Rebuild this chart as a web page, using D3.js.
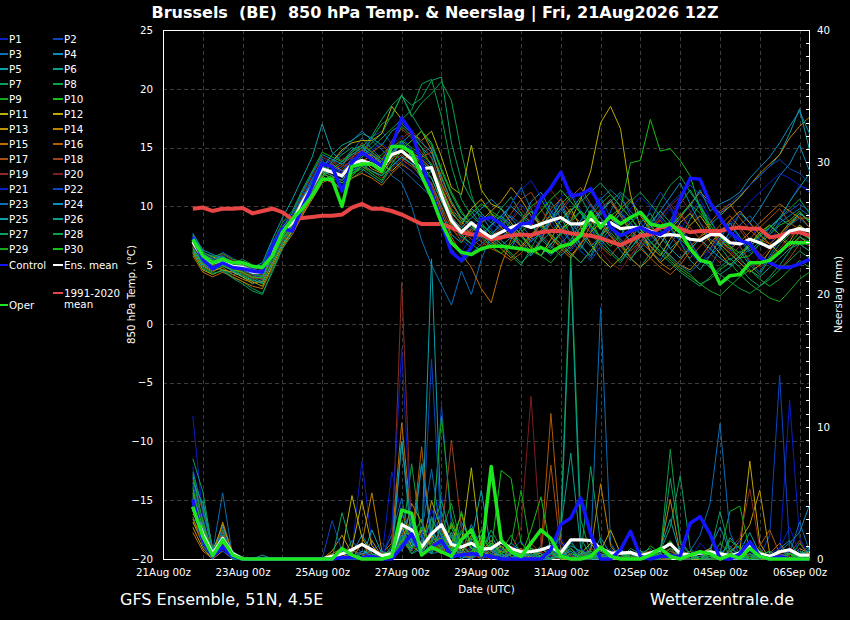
<!DOCTYPE html>
<html>
<head>
<meta charset="utf-8">
<script src="https://cdn.jsdelivr.net/npm/d3@7"></script>
<style>
body { margin: 0; background: #000; }
svg { display: block; font-family: "DejaVu Sans", sans-serif; }
text { fill: #fff; }
</style>
</head>
<body>
<script>
// GFS ensemble plume, Brussels, run 21Aug2026 12Z, 6-hourly steps from 21Aug 18z
var firstStep = Date.UTC(2026, 7, 21, 18),
	stepHours = 6,
	nSteps = 63;

var pertNames = d3.range(1, 31).map(function(i) { return "P" + i; });
var pertColors = ["#0a1ec8","#0a46c0","#0a6eb4","#0a8cbe","#0aa0aa","#0aa08c","#0aa064","#0aa046","#14aa1e","#14c014",
	"#b4b400","#c0a800","#c09600","#c08200","#c06e00","#b45a00","#aa5014","#a0401e","#8c2d1e","#7d1e1e",
	"#0a1ec8","#0a46c0","#0a6eb4","#0a8cbe","#0aa0aa","#0aa08c","#0aa064","#0aa046","#14aa1e","#14c014"];

var controlTemp = [7.35,5.5,4.7,5.2,4.8,4.7,4.5,4.4,6.6,8.1, 7.9,9.9,11.7,13.6,13.4,11.3,13.7,14.6,14.0,13.4,
	15.1,17.5,16.3,13.7,11.2,8.6,6.1,5.4,6.5,8.9, 9.05,8.5,7.8,8.5,8.6,10.6,11.6,12.9,10.9,11.0,
	11.5,10.0,8.2,7.5,7.9,8.2,7.8,7.6,8.2,10.6, 12.4,12.3,10.3,9.05,7.8,7.1,6.8,5.65,5.2,4.8, 4.8,5.1,5.5];
var meanTemp = [7.0,5.6,5.2,5.4,4.9,4.8,4.4,4.4,6.4,7.9, 8.6,10.3,11.7,13.2,12.9,12.6,13.6,13.9,13.6,13.2,
	14.4,14.7,14.0,13.2,13.3,10.9,8.8,7.8,8.6,7.9, 7.35,7.8,8.2,8.5,8.2,8.5,8.8,9.05,8.5,8.5,
	8.9,8.5,8.6,8.1,8.2,8.2,7.9,7.5,7.6,7.5, 7.2,7.1,7.6,7.6,6.9,6.8,7.2,6.9,6.5,7.1, 7.9,8.1,7.9];
var operTemp = [7.2,5.8,5.2,5.5,5.2,5.2,4.9,4.8,5.8,7.8, 8.9,9.8,10.9,12.3,12.3,10.0,13.4,13.6,13.6,13.0,
	15.1,15.1,14.6,12.6,10.8,8.6,6.9,6.1,5.9,6.4, 6.6,6.6,6.5,6.4,6.2,6.5,6.1,6.6,6.8,7.5,
	9.5,8.2,9.2,8.5,9.05,9.5,8.5,8.3,8.5,7.8, 6.4,5.4,5.2,3.4,4.1,4.2,5.2,5.2,5.4,6.1, 6.9,6.9,6.9];
var climTemp = [9.8,9.9,9.6,9.8,9.8,9.85,9.4,9.6,9.8,9.5, 8.9,9.0,9.1,9.2,9.2,9.3,9.9,10.2,9.8,9.8,
	9.6,9.3,8.9,8.5,8.5,8.5,8.2,7.8,7.6,7.6, 7.2,7.35,7.55,7.6,7.55,7.8,7.9,7.9,7.7,7.6,
	7.5,7.3,7.0,6.7,7.1,7.5,7.6,8.2,8.3,8.1, 7.8,7.9,7.9,7.9,8.1,8.2,8.1,8.1,7.35,7.5, 7.8,7.8,7.5];

var controlPrecip = [4.5,1.4,0.2,0.9,0.2,0,0,0,0,0, 0,0,0,0,0,0.1,0.1,0.1,0.2,0,
	0,0.9,1.9,0.4,0.9,1.4,0.2,0.3,0.4,0.3, 0.2,0,0,0,0,0,0.7,2.6,3.1,4.6,
	1.9,0,0,0.7,2.1,0.2,0,0.2,0.2,0.2, 2.7,3.2,1.9,0.05,0,0.4,1.3,0.2,0,0.2, 0,0,0];
var meanPrecip = [3.95,1.9,0.4,1.55,0.4,0.05,0,0,0,0, 0,0,0,0,0.2,0.4,0.7,1.1,0.7,0.25,
	0.4,2.6,2.2,0.9,1.9,2.6,1.1,0.9,1.2,0.75, 0.8,1.3,0.8,0.55,0.55,0.7,0.95,0.45,1.45,1.45,
	1.4,0.8,0.45,0.45,0.5,0.25,0.45,0.7,1.15,0.4, 0.3,0.45,0.55,0.4,0.25,0.45,1.05,0.4,0.2,0.55, 0.7,0.3,0.3];
var operPrecip = [3.95,1.7,0.25,1.45,0.3,0,0,0,0,0, 0,0,0,0,0,0.8,0.3,0,0,0,
	0.2,3.7,3.45,0.3,0.9,0.55,0.2,1.45,2.2,0.3, 7.0,1.45,0.55,0.2,1.2,2.2,1.55,0.2,0,0,
	0.2,0.9,0.2,0,0,0,0.3,0.8,0.2,0, 0.3,0.55,0.4,0,0.3,0.05,0.8,0.2,0,0, 0,0,0];

// perturbation members P1..P30, 850 hPa temperature
var pertTemp = [
	[6.9,5.0,4.6,5.2,4.4,4.6,4.0,4.1, 6.8,8.4,9.5,11.2,12.8,14.1,13.5,12.8, 14.2,15.1,14.3,13.6,15.2,16.0,14.8,12.5, 10.6,8.3,6.9,6.1,7.4, 8.6,9.1,8.4, 8.9,10.2,9.0,7.4,8.6,10.8,11.4,9.6,8.0,6.8, 7.8,9.6,8.4,6.4,7.2,8.8,9.8,8.0,9.4,10.6, 9.0,7.4,6.2,7.8,8.6,7.0,6.4,8.8,10.4,11.8,11.2],
	[7.5,5.8,5.4,6.1,5.6,5.0,4.7,4.9, 7.0,8.2,8.9,10.8,12.4,13.6,13.9,13.0, 13.8,14.6,15.9,16.4,15.3,14.2,13.6,14.4, 15.1,12.0,9.3,7.2,6.5, 7.3,8.4,9.2, 8.0,6.6,5.8,7.2,8.8,7.6,6.2,7.4,9.6,10.8, 9.0,8.2,6.8,7.6,9.8,11.2,10.0,8.4,7.0,5.6, 6.4,7.8,8.6,7.2,6.0,6.8,8.2,9.0,9.6,10.2,9.6],
	[6.4,5.3,4.9,4.6,4.2,4.3,3.9,3.6, 5.8,7.6,8.8,10.6,12.3,14.0,12.8,13.4, 14.6,15.8,14.9,14.0,12.6,12.0,10.0,7.1, 5.0,3.3,1.6,4.5,2.5, 5.5,7.5,8.7, 10.2,11.6,9.8,8.2,9.4,10.6,8.4,6.8,5.6,7.2, 9.6,11.0,9.2,7.6,6.2,5.4,6.8,8.0,7.0,5.6, 4.8,6.4,7.8,6.6,5.2,4.4,5.8,7.2,8.4,9.0,8.2],
	[7.2,6.0,5.8,5.5,5.0,4.9,4.6,4.8, 6.2,7.4,8.0,9.6,11.0,12.5,13.2,12.4, 13.0,13.4,14.0,13.8,14.6,15.4,16.2,15.0, 14.2,11.6,9.4,8.6,9.8, 9.2,8.0,7.1, 6.4,8.2,10.4,11.2,9.6,8.4,7.0,8.8,10.2,9.0, 7.6,6.2,5.4,6.8,8.4,9.6,10.8,12.0,10.2,8.6, 7.2,6.6,7.8,9.4,8.6,9.8,11.2,12.6,13.6,15.2,13.0],
	[7.6,6.2,5.1,5.7,5.3,4.4,4.8,5.2, 7.2,9.0,10.6,12.4,14.2,17.0,14.6,13.8, 14.8,15.2,14.0,13.4,14.2,15.6,14.2,12.8, 11.9,9.8,7.6,6.9,8.2, 7.6,6.8,7.4, 8.0,6.6,5.8,7.0,9.0,10.2,8.4,6.6,5.8,7.6, 9.0,8.2,7.0,8.6,9.4,8.0,6.4,7.2,8.9,10.2, 8.4,9.2,10.0,10.8,11.8,12.6,13.4,14.4,16.2,18.3,14.8],
	[6.6,5.4,5.0,5.0,4.5,4.0,3.4,3.8, 5.6,7.2,8.4,10.0,11.4,12.6,12.0,11.6, 12.8,13.2,12.6,12.0,13.4,14.2,13.6,12.4, 13.0,11.2,9.8,8.8,9.6, 8.4,7.2,6.6, 7.4,8.8,9.6,8.2,10.4,9.0,7.6,6.4,7.8,9.4, 10.6,9.2,7.8,6.6,5.6,6.8,8.2,7.0,5.4,4.6, 5.8,7.2,8.6,7.4,6.2,7.0,7.8,9.0,10.4,11.6,12.8],
	[7.4,5.7,5.6,5.8,5.1,5.5,5.0,4.6, 6.0,7.4,8.6,10.4,11.9,12.8,13.6,14.4, 15.0,14.6,15.4,16.2,17.8,19.4,18.6,19.2, 20.7,21.0,15.4,12.2,10.6, 9.4,8.6,9.8, 10.8,9.4,8.6,7.2,6.4,7.8,9.6,10.8,9.2,7.0, 8.2,7.0,5.6,4.8,6.0,7.4,8.8,10.2,11.4,10.0, 8.2,6.6,5.4,6.2,5.0,4.2,5.6,6.8,7.6,8.4,7.2],
	[7.0,5.2,4.8,4.6,4.0,3.6,3.0,2.6, 4.4,6.4,8.0,9.8,11.2,12.6,13.2,12.6, 13.4,14.4,15.8,17.0,17.6,19.5,17.6,18.8, 19.6,20.6,19.0,14.6,11.0, 8.6,7.6,6.8, 5.8,5.0,6.4,8.0,8.8,10.2,11.0,9.4,8.2,6.8, 6.0,5.2,6.4,7.6,8.8,10.4,11.8,12.6,11.2,10.0, 8.8,7.4,6.6,5.6,6.4,7.6,8.2,9.0,9.8,10.6,9.4],
	[6.2,4.8,4.4,4.9,4.6,4.2,3.8,3.4, 5.4,7.0,8.2,9.6,11.0,12.2,12.6,12.0, 12.4,13.0,13.8,14.4,15.2,16.8,16.0,15.0, 13.4,11.0,8.6,7.4,6.8, 6.2,6.6,7.2, 8.0,8.8,10.0,10.6,9.2,8.0,7.0,6.2,5.4,6.6, 7.8,6.8,5.6,6.4,7.6,6.6,5.6,4.8,4.2,3.4, 3.8,4.6,5.2,4.2,3.4,2.8,2.2,1.9,2.8,3.8,4.4],
	[6.8,5.6,5.0,5.3,4.8,4.5,4.2,4.4, 6.6,8.0,9.0,10.8,12.2,13.0,12.2,11.4, 12.6,13.4,13.0,12.6,14.0,15.0,14.4,13.6, 12.4,10.4,9.0,8.2,7.8, 8.6,9.4,8.8, 7.8,7.0,6.2,5.8,6.8,7.6,8.6,9.6,8.8,8.0, 9.2,9.8,13.7,13.9,17.4,14.7,14.9,13.9,12.6,9.8, 8.0,7.0,6.4,5.6,5.8,6.8,7.6,8.4,8.8,9.6,8.6],
	[6.0,4.6,4.2,4.6,4.4,4.0,3.6,3.2, 5.0,6.6,8.0,9.4,11.0,12.4,13.8,14.8, 15.4,15.6,15.6,16.2,18.5,17.4,16.2,15.6, 16.4,14.2,11.6,11.0,15.2, 11.4,10.2,9.8, 8.6,7.6,6.4,5.8,7.2,8.8,9.8,8.2,6.8,5.6, 4.8,5.6,6.8,7.8,6.6,5.8,7.2,8.6,9.4,8.2, 7.0,6.0,5.0,5.8,6.8,7.8,8.4,7.6,8.6,9.4,8.8],
	[7.3,5.9,5.7,5.4,5.2,5.0,4.6,4.5, 6.0,7.6,8.4,10.0,11.4,12.8,13.6,13.0, 13.4,13.8,14.4,13.6,13.0,13.8,14.6,14.0, 13.2,11.6,9.6,8.4,9.8, 10.6,9.4,8.2, 7.4,6.6,7.6,8.4,9.2,8.0,8.8,10.6,13.0,17.1, 18.5,16.6,11.0,8.2,6.2,5.2,6.0,7.2,8.4,9.2, 8.0,6.8,6.0,5.2,4.4,5.0,6.2,7.4,6.6,7.4,6.8],
	[6.5,5.1,4.7,5.1,4.7,4.4,4.0,3.9, 5.8,7.4,8.8,10.6,12.0,13.4,13.0,12.6, 13.6,14.0,13.2,12.8,14.6,15.2,14.4,13.8, 13.0,10.6,8.4,7.6,8.0, 8.8,9.6,10.4, 11.6,10.6,9.2,8.4,7.6,6.8,6.0,5.2,6.2,7.4, 8.6,9.8,10.6,9.2,8.0,6.6,5.8,5.0,4.6,5.6, 6.8,7.8,8.8,9.6,8.6,7.6,6.8,6.0,7.0,8.4,7.8],
	[6.1,4.9,4.5,4.8,4.2,3.8,3.5,3.6, 5.2,6.8,7.8,9.2,10.6,12.0,12.4,12.8, 13.8,14.8,14.2,13.4,14.0,14.8,15.6,16.4, 14.8,12.0,10.2,9.0,8.4, 7.6,7.0,6.4, 5.6,6.4,7.4,8.6,7.4,6.6,5.8,6.8,7.8,8.6, 7.4,6.6,5.6,4.8,5.6,6.8,8.0,9.0,10.2,11.2, 10.4,9.4,10.0,10.8,11.8,12.8,13.6,14.4,15.8,16.8,17.6],
	[5.8,4.4,4.0,4.4,4.0,3.6,3.2,3.0, 4.8,6.4,7.6,9.2,10.8,12.4,12.0,11.4, 12.4,12.8,12.4,11.8,12.8,13.6,13.0,12.2, 11.6,9.4,7.4,6.0,4.8, 3.0,1.8,5.0, 7.2,8.8,9.6,8.4,7.4,6.4,5.6,6.8,8.4,9.6, 10.4,9.2,8.0,7.0,6.2,5.2,4.6,5.4,6.6,7.4, 8.0,7.2,6.4,7.0,7.8,8.6,9.4,10.2,9.6,9.0,9.0],
	[6.7,5.5,5.3,5.6,5.0,4.7,4.3,4.2, 6.2,7.8,8.6,10.2,11.6,13.0,12.6,12.2, 13.2,13.6,14.6,15.2,14.4,14.0,13.4,14.2, 14.6,12.6,10.4,8.8,7.6, 7.0,6.4,6.0, 5.4,6.0,7.2,8.6,9.8,10.6,9.4,8.6,7.8,6.6, 5.8,6.8,7.6,6.4,5.6,4.8,4.2,5.0,6.2,7.4, 8.6,9.6,10.2,9.0,8.0,7.2,6.8,7.6,8.4,9.2,8.2],
	[7.1,5.5,5.1,5.0,4.6,4.6,4.2,4.0, 6.0,7.2,8.2,9.8,11.2,12.6,13.0,13.6, 14.2,14.8,14.0,13.2,13.8,14.4,13.6,12.8, 12.0,10.0,8.2,7.0,7.8, 8.6,9.2,8.6, 7.6,6.6,6.0,7.2,8.6,9.8,10.8,11.6,10.2,9.0, 8.2,7.2,6.2,7.0,8.2,8.8,7.6,6.4,5.6,6.6, 7.4,8.4,9.2,8.2,7.2,8.2,9.0,9.8,8.6,8.0,7.4],
	[6.3,5.0,4.8,5.1,4.7,4.3,3.9,3.8, 5.6,7.0,8.4,10.0,11.4,12.8,12.4,13.2, 14.0,15.4,14.6,13.8,15.6,16.6,15.8,14.6, 13.6,11.4,9.2,8.0,7.2, 6.6,7.4,8.2, 9.4,10.6,11.2,9.8,8.4,7.2,6.4,7.6,8.8,9.8, 10.6,9.4,8.2,7.0,6.2,7.4,8.6,9.4,8.2,7.2, 6.4,7.6,8.8,8.0,6.8,6.0,5.2,4.6,5.6,6.8,6.2],
	[7.0,5.8,5.5,5.9,5.4,5.2,4.8,4.6, 6.4,8.2,9.2,11.0,12.6,14.2,13.8,13.4, 13.8,13.4,13.0,12.4,13.2,14.0,13.4,12.6, 11.8,9.6,8.0,7.4,8.2, 7.6,7.0,7.6, 8.8,9.8,8.6,7.6,6.8,6.0,6.8,8.2,9.4,8.6, 7.6,6.6,5.8,6.6,7.8,9.0,10.2,9.2,8.2,7.2, 6.0,5.2,5.8,6.6,5.4,4.8,5.6,6.4,7.4,8.0,7.4],
	[6.6,5.3,4.9,5.4,4.9,4.5,4.1,4.2, 6.0,7.6,8.6,10.4,11.8,13.2,13.6,14.0, 14.4,14.0,13.6,14.2,15.0,15.8,16.4,15.6, 14.0,11.8,9.8,8.4,7.8, 7.2,6.6,7.2, 8.0,8.8,9.8,10.6,11.4,10.2,9.0,8.0,7.0,6.2, 5.2,4.6,5.8,7.0,8.0,9.2,10.0,10.8,9.6,8.6, 7.8,7.0,6.2,5.4,4.8,5.6,6.4,7.2,6.4,7.2,6.6],
	[7.4,6.0,5.6,5.3,4.9,4.8,4.5,4.6, 6.2,7.8,8.8,10.4,12.0,13.6,13.2,12.8, 13.6,14.2,14.8,15.4,14.6,13.8,13.0,12.2, 11.4,9.2,7.0,5.8,6.6, 7.4,8.2,9.0, 10.2,11.4,12.2,10.8,9.4,8.2,7.0,6.2,5.4,6.6, 7.8,8.8,9.8,10.8,10.0,9.0,8.0,7.0,6.0,5.2, 6.2,7.4,8.4,9.4,10.4,11.2,12.0,12.8,12.4,11.8,11.4],
	[6.9,5.7,5.3,5.8,5.2,5.1,4.7,4.8, 6.6,8.0,9.2,10.8,12.2,13.8,13.4,13.0, 14.0,14.4,14.0,13.6,14.8,15.4,14.8,14.2, 13.4,11.0,8.8,7.6,8.4, 9.2,8.6,8.0, 7.2,6.2,7.0,7.8,8.8,9.6,10.6,11.2,10.0,9.0, 8.2,7.2,6.4,7.4,8.2,9.2,10.2,11.0,11.8,11.0, 10.2,9.4,10.2,11.0,11.8,12.6,13.4,14.0,13.2,12.8,12.0],
	[6.5,5.2,4.8,5.2,4.8,4.6,4.2,4.0, 5.6,7.2,8.4,10.2,11.6,13.0,13.8,14.6, 15.6,16.4,15.6,14.8,14.0,13.2,12.4,11.6, 10.8,8.6,6.4,5.2,6.0, 6.8,7.6,8.4, 9.2,8.4,7.4,6.6,5.8,6.8,7.8,8.8,9.4,10.6, 11.4,10.6,9.6,8.6,7.6,6.6,5.8,5.0,4.4,5.2, 5.8,6.6,7.4,8.4,9.2,8.2,7.6,8.6,9.2,9.8,9.2],
	[7.7,6.3,5.9,5.6,5.3,5.2,4.9,5.0, 6.6,8.2,9.4,11.2,12.8,14.4,14.0,13.6, 14.4,15.0,14.4,13.8,14.6,15.2,14.6,13.8, 13.0,10.8,9.0,8.2,9.0, 9.8,10.6,9.8, 9.0,8.0,7.0,7.8,8.8,9.8,8.6,7.6,6.6,7.4, 8.4,9.4,8.6,7.6,6.8,7.6,8.4,9.2,10.0,11.4, 9.6,10.2,10.6,11.2,12.4,13.3,14.2,15.4,16.8,18.1,16.2],
	[6.3,5.0,4.6,5.0,4.5,4.1,3.7,3.5, 5.2,6.8,8.2,10.0,11.6,13.0,12.6,12.2, 13.0,13.6,13.0,12.6,13.4,14.2,13.6,13.0, 12.4,10.4,8.6,7.6,6.8, 7.6,8.4,9.2, 10.0,9.2,8.4,7.4,6.6,5.8,6.6,7.6,8.6,9.6, 10.4,11.2,10.4,9.4,8.4,7.4,6.4,5.6,6.4,7.2, 6.4,5.6,5.0,5.8,6.6,7.4,8.2,9.0,8.4,9.4,8.8],
	[7.2,5.9,5.5,5.7,5.2,4.9,4.5,4.3, 6.0,7.6,8.8,10.4,12.0,13.2,14.4,15.2, 15.6,16.2,15.8,15.2,16.4,17.0,16.2,15.4, 14.6,12.4,10.4,9.0,8.2, 7.6,8.4,9.2, 8.4,7.6,6.6,5.8,6.8,7.8,8.8,9.6,8.4,7.2, 6.2,5.4,6.4,7.4,8.6,9.6,8.6,7.6,6.6,5.6, 4.8,4.2,4.8,5.6,4.6,4.0,4.8,5.6,6.4,6.8,6.2],
	[6.0,4.7,4.3,4.5,3.9,3.4,2.8,2.5, 4.6,6.4,7.8,9.6,11.2,12.6,13.2,13.8, 14.4,15.0,16.0,17.4,18.6,19.4,17.8,16.4, 15.2,13.0,11.0,9.4,8.6, 8.0,7.4,6.8, 6.0,5.2,6.0,7.0,7.8,8.8,9.6,10.4,11.2,12.0, 11.0,10.0,9.0,8.0,7.0,6.0,5.2,4.4,3.8,3.2, 4.0,4.8,5.6,4.8,3.8,3.2,4.0,5.0,6.2,7.4,7.0],
	[6.8,5.5,5.1,5.4,5.0,4.7,4.3,4.1, 6.0,7.4,8.6,10.2,11.8,13.4,13.0,12.6, 13.4,14.2,15.0,15.8,16.6,17.4,18.2,20.4, 20.8,17.6,13.4,10.6,9.2, 8.4,7.8,7.2, 7.8,8.6,9.6,8.6,7.6,6.8,6.0,5.2,6.2,7.4, 8.4,9.4,10.4,11.2,10.2,9.2,8.2,7.2,6.4,5.6, 4.8,4.2,3.6,3.0,2.6,3.2,3.8,4.6,5.4,6.2,5.6],
	[7.5,6.1,5.7,6.0,5.5,5.3,4.9,4.7, 6.8,8.6,9.6,11.4,13.0,14.6,14.2,13.8, 14.6,15.2,14.6,14.0,15.0,15.6,15.0,14.4, 13.6,11.4,9.4,8.6,9.4, 10.2,9.6,9.0, 8.2,7.4,6.6,5.8,5.2,6.2,7.2,8.2,9.2,10.2, 11.0,10.0,9.0,8.0,7.0,6.2,5.4,4.6,4.0,3.4, 2.8,2.4,3.2,4.0,4.6,3.8,3.2,3.8,4.6,5.4,4.8],
	[6.4,5.1,4.7,5.0,4.6,4.4,4.0,3.9, 5.8,7.2,8.4,10.0,11.4,12.8,12.4,12.0, 12.8,13.4,12.8,12.2,13.6,14.8,15.6,16.4, 15.4,13.2,11.2,9.6,8.4, 7.4,6.6,6.0, 6.8,7.8,8.6,9.6,10.6,11.4,10.4,9.4,8.4,7.4, 6.6,7.6,8.6,9.4,8.4,7.4,8.2,9.2,10.2,9.4, 8.4,7.4,6.6,6.0,6.8,7.6,8.4,7.6,6.8,7.8,7.2]
];

// perturbation members P1..P30, precipitation (mm per 6h)
var pertPrecip = [
	[10.8,3.2,0.4,1.8,0.2,0,0,0,0,0, 0,0,0,0,0,0,0.6,7.4,1.2,0, 6.6,3.4,1.2,0.4,2.6,4.8,1.0,0.2,0,0.6, 1.4,0.4,0,0,0.8,0.2,0,1.6,0.4,0, 0,0.2,0,0,0.6,0,0,0,0.4,0, 0,1.2,0.4,0,0,0.2,0.8,0,0,0.4, 12,1.6,0.2],
	[5.6,1.8,0.2,2.4,0.4,0,0,0,0,0, 0,0,0,0,0.4,0.8,0,0,0.6,1.2, 0.4,2.2,3.6,1.0,0.6,11.6,2.4,0.8,0,0.4, 0.2,0,0.6,1.4,0,0,0.4,0,0,0.2, 0,0,0.8,0,0,0.2,0,0,0,1.0, 0.4,0,0,0.6,0,0,0.4,0.2,1.8,13.9, 0.8,0,0.4],
	[4.2,1.4,0.6,5.0,0.2,0,0,0,0,0, 0,0,0,0,0,0,1.4,0.4,0,0.2, 1.8,4.6,0.8,2.0,6.8,1.6,0.4,2.8,1.2,0, 0.6,1.0,0.2,0,0.4,0,0,0.8,1.4,0.2, 0.6,19,1.2,0,0,0.4,0,0,0.8,0, 0,0.2,0,0.4,1.0,0,0,0.6,0,0, 0.4,2.8,0.6],
	[6.2,2.6,0.2,1.2,0,0,0,0,0,0, 0,0,0,0,0.2,0,0.4,1.8,0.6,0, 0.8,8.9,2.4,0.6,3.2,1.2,0,0.4,2.6,0.8, 0,0.4,1.2,0.6,0,0.2,0.8,0,0.4,0, 0.2,1.6,0.4,0,0,0.6,0.2,0,0,0.4, 0,0,0.8,2.4,0.6,0,0,0.2,0,0.8, 1.4,0,0.2],
	[3.6,4.4,0.8,2.0,0.6,0,0,0.3,0,0, 0,0,0,0,0,0.4,0,0,2.2,0.4, 0,1.6,0.4,0.8,22.7,2.0,0.6,1.4,0,0.8, 1.8,0.4,0,0.2,0.6,0,0,0.4,1.0,0.6, 0,0,0.4,0.8,0,0,0.2,0.6,1.2,0, 0.2,0,0,0.4,0,0.6,2.0,0.4,0,0, 0.6,0.2,0.8],
	[4.8,2.2,0.4,1.6,0.2,0,0,0,0,0, 0,0,0,0,0,0,0,0.4,0.8,0, 0.2,2.8,1.4,7.2,2.2,0.6,1.8,0.4,0,1.2, 0.6,0,0.4,0.8,0.2,1.0,0,2.4,8.0,0.8, 0,0.2,0.6,0,0,0.4,0.8,0,0.6,0.2, 0,0.4,0,0,1.6,0.8,0,0.2,0.6,0, 0,0.4,1.0],
	[7.6,5.1,0.6,1.4,0.4,0,0,0,0,0, 0,0,0,0,0,0,0,0,0.6,0, 0.4,1.8,0.8,2.4,1.2,3.6,0.8,0,0.4,1.6, 0.8,0.2,0,0.4,0,0.6,1.2,0.4,0,0.2, 7.0,1.2,0,0.2,0.6,0,0,0.4,6.1,1.4, 0.4,0,0.2,0,0.6,1.0,0,0,0.4,0, 0.2,0,0.6],
	[5.2,3.0,0.2,0.8,0,0,0,0,0,0, 0,0,0,0,0,0,0.4,0,0,0.2, 0,1.2,7.2,1.6,0.4,2.0,4.2,1.0,0.2,0.6, 2.2,0.8,0.4,0,0.6,0.2,0,2.8,23,3.0, 0.4,0,0.2,0,0.8,0.4,0,0,0.6,0.2, 0,0.6,0,1.2,0.4,0,0.2,0,0,0.6, 0.4,0,0],
	[3.8,1.4,0,2.2,0.2,0,0,0,0,0, 0,0,0,0,0,0,0,0.2,0.4,0, 1.0,0.6,2.2,0.8,1.4,10.75,3.2,0.8,1.6,0.4, 0,0.6,1.8,0.4,0,0,0.8,0.2,0.6,0, 0.2,0.4,0,0.6,0,0,1.0,0.4,0,0.8, 0.2,0,0,0.4,3.6,4.0,0.6,0,0.2,0.4, 0,1.2,0.2],
	[5.4,2.0,0.4,1.0,0,0,0,0,0,0, 0,0,0,0,0,0,0,0,0,0.4, 0.2,0.8,1.6,3.0,0.6,1.4,2.4,0.4,0,1.8, 0.6,6.7,6.1,1.2,0.4,0,0.2,0.6,0,0.4, 0,0.8,0.2,0,0,0.4,0,0.6,1.4,0.2, 0,0,0.6,0.2,0,0.4,0,0.8,0,0, 0.4,0,0.2],
	[2.8,1.2,0.2,1.8,0,0,0,0,0,0, 0,0,0,0,0,0.6,4.8,1.6,0.4,0, 0.6,2.4,1.0,0.4,1.8,0.8,2.6,1.2,6.9,0.6, 0.2,0,0.4,0.8,0,0.2,0.6,0,0,0.4, 1.2,0.2,0,0,0.4,0,0,0.8,0.2,0, 0,0.4,0.8,0,0,0.2,1.0,0.4,0,0, 0.2,0,0],
	[3.4,2.4,0.6,2.6,0.4,0,0,0,0,0, 0,0,0,0,0,0,0.8,4.4,1.0,0.2, 0,1.4,0.6,2.2,0.8,0.4,1.2,3.4,0.8,0, 0.4,1.0,0.2,0,0.6,0.4,0,0.2,0.8,0, 0,0.6,2.2,0.4,0,0,0.2,0.4,0,0.6, 0,0,0.2,0.4,0,0.6,7.4,1.2,0,0.2, 0.6,0,0.4],
	[2.4,0.8,0,1.2,0.2,0,0,0,0,0, 0,0,0,0,0.6,1.8,0.4,0,1.4,0.2, 0,2.8,1.6,0.6,4.4,2.2,0.8,0.4,1.8,1.0, 0.2,0,0.6,0.4,0,0.8,0.2,0,0.4,0, 0.2,0,0,0.6,0.2,0,0.4,0,0,0.2, 0.6,0,0,0.2,0.4,1.4,2.6,5.2,0.4,0, 0,0.2,0],
	[3.0,1.6,0.2,2.8,0.4,0,0,0,0,0, 0,0,0,0,0,0.4,0,1.2,5.0,0.6, 0.2,1.0,4.2,2.8,0.6,1.6,0.4,0.8,0,0.6, 1.4,0.4,0,0.2,0.8,0.2,0.6,0,0,0.4, 0.6,5.7,1.0,0,0,0.2,0,0.6,4.5,0.4, 0,0.2,0,0,0.6,0,0.4,0,0,0.2, 0,0.8,0.4],
	[2.0,0.6,0,0.6,0,0,0,0,0,0, 0,0,0,0,0.4,0.8,0.2,0,0,0.4, 1.2,10.3,2.6,0.8,1.4,0.6,1.0,0.2,0.8,0.4, 0.2,0.6,0.4,0,0.2,0,0.8,0.4,0,0.6, 0.2,0,0.4,0,0,0.6,0.2,0,0.4,0, 0,0.4,0,0.2,0,0.6,0.2,0,0.4,1.2, 0.2,0,0],
	[3.2,1.0,0.2,1.4,0,0,0,0,0,0, 0,0,0,0,0,0,0.6,0.4,0,0, 0.4,3.6,1.4,8.5,1.2,0.6,2.0,0.4,0,1.2, 0.6,0.2,0,0.4,0.8,0.6,11.0,1.4,0.2,0, 0,0.4,0.2,0,0.6,0,0,0.4,0,0.2, 0,0.6,0,0,0.4,0.2,0,1.0,2.2,0.4, 0,0.2,0.4],
	[4.4,1.6,0.4,2.0,0.2,0,0,0,0,0, 0,0,0,0,0,0.2,0,0,0.8,0.4, 0,2.0,0.8,1.4,0.6,2.4,1.0,0.2,0.6,0, 0.4,0.8,0.2,0,1.2,0.4,7.1,0.6,0,0.2, 0.4,0,0,0.6,0.2,0,0,0.4,0.8,0, 0.2,0,0.4,0,0,0.6,0,0.2,0,0.4, 0.8,0,0.2],
	[5.0,2.8,0.6,1.0,0,0,0,0,0,0, 0,0,0,0,0,0,0.4,1.2,0.2,0, 0.6,1.4,2.2,0.4,1.0,1.8,9.0,2.4,0.6,0.2, 0,0.4,1.0,0.2,0,0.6,0,0.4,0.2,0, 0.8,0.4,0,0.2,0,0.4,0.6,0,0,0.4, 0,0.2,0,0.6,0.2,0,0.8,0.4,0,0, 0.4,1.4,0],
	[6.0,3.6,0.8,1.6,0.2,0,0,0,0,0, 0,0,0,0,0,0,0,0.4,0,0.6, 0.4,20.9,1.8,0.6,2.4,0.8,0.2,1.0,0.4,0, 0.6,0.2,0,0.8,0.4,0,0.2,0.6,0,0.4, 0,0.2,0.6,0,0.4,0,0.2,0,0.6,0, 0.2,0,0.4,0,0.8,1.6,5.3,0.8,0,0.2, 0,0.4,0],
	[4.6,2.2,0.2,0.8,0,0,0,0,0,0, 0,0,0,0,0,0,0,0,0.6,0, 0.2,1.2,0.6,2.0,0.8,1.4,0.4,1.6,0.2,0.8, 0.4,0,0.6,2.4,12.3,1.0,0.2,0,0.4,0, 0.2,0.6,0,0.4,0,0,0.6,0.2,0,0.4, 0,0.2,0.6,0,0,0.4,0.2,0,0.6,0, 0.2,0,0.4],
	[7.0,2.4,0.2,1.2,0.4,0,0,0,0,0, 0,0,0,0,0,0,0.2,0.6,0,0, 2.4,15.9,1.6,0.4,3.8,1.4,0.6,0,0.8,0.4, 0,0.2,0.6,0,0.4,0,0.2,1.2,0.4,0, 0,0.6,0.2,0,0.4,0,0,0.8,0.2,0, 0.4,0,0.2,0.8,0,1.4,0.6,0,0.4,0.8, 2.4,0.4,0],
	[5.8,2.0,0.4,0.6,0,0,0,0,0,0, 0,0,0,0,2.9,0.6,0,0.2,0,0, 0.8,1.0,2.6,0.6,15.1,1.8,0.4,0.2,1.0,0, 0.4,0.8,0,0.2,0.6,0,0,0.4,0.2,0.8, 0.2,0,0.4,0,0,0.6,0.2,0,0.4,0, 0,0.4,0,0,0.2,0.6,0,0.4,0,0.2, 0.6,0,0.2],
	[4.0,1.0,0,2.4,0.2,0,0,0,0,0, 0,0,0,0,0,0,0,0,0.4,0.2, 0,2.2,0.8,1.8,0.4,0.6,1.4,0.2,0,0.6, 1.0,0.4,0,0.6,0.2,0,0.4,0,0.8,0.2, 0,0.4,0,0.2,0.6,0,0,0.2,0.4,0, 0.6,1.8,4.2,10.25,2.0,0.2,0,0.4,0,0, 0.4,0.2,0],
	[6.6,3.8,0.6,1.8,0.4,0,0,0,0,0, 0,0,0,0,0,0,0,0.6,0.2,0, 0.4,1.8,0.6,7.2,1.6,0.8,2.0,0.4,0.2,0.6, 0.8,0.2,0,0.4,0.6,0.2,0,0.8,0,0.4, 0.6,0,0.2,0.8,0,0,0.4,0.2,0,0.6, 0,0.2,0.4,0,0.6,0,0.2,0.4,0,0.6, 1.2,2.0,4.1],
	[3.0,2.6,0.4,1.0,0,0,0,0,0,0, 0,0,0,0,0,0,0,0.4,0.6,0.2, 0,8.9,1.2,0.6,2.2,1.0,0.4,2.0,1.4,5.2, 0.6,0.2,0.4,0,0.8,0.4,0,0.2,0.6,0, 0.4,0,0.2,0,0.6,0,0.4,0.8,3.0,0.4, 0.2,0,0.6,0,0,0.4,0,0.2,0.6,0, 0.4,0,0.2],
	[4.6,1.8,0.2,1.4,0.2,0,0,0,0,0, 0,0,0,0,0,0,0,0,0.2,0.6, 0.2,1.2,2.8,0.8,0.4,2.6,1.2,0,0.6,0.8, 0.2,0.4,0,0.6,0.2,0.8,0.4,1.8,22,1.6, 0.2,0,0.4,0,0.2,0.6,0,0.4,0,0.2, 0.4,0,0,0.6,0.2,0,0.4,0,0.2,0, 0,0.4,0.6],
	[5.8,4.2,0.8,1.6,0.2,0,0,0,0,0, 0,0,0,0,0,3.5,0.8,0,0.2,0, 0.4,2.6,1.4,0.8,2.0,4.4,1.6,0.6,0.2,1.0, 0.4,0,0.8,0.2,0.6,0,0.4,0.2,1.2,0.4, 0,0.2,0.6,0,0.4,0.2,0,0.6,2.4,6.3, 0.8,0,0.4,3.6,0.6,0,0.2,0.4,0,0.2, 0,0.6,0.2],
	[4.2,1.2,0.2,0.8,0,0,0,0,0,0, 0,0,0,0,0,0,0.4,0,0,0, 0.2,1.6,0.4,1.2,3.0,1.8,0.6,2.2,0.8,0.4, 1.2,0.6,0.2,0,0.4,0,0.8,0.2,0,0.6, 0.2,0,0.4,0.6,0,0,0.2,0.4,8.3,1.2, 0.4,0,0.2,0,0.8,0.4,0,0,0.4,0.2, 0,0.2,0.4],
	[6.4,2.8,0.4,1.2,0.4,0,0,0,0,0, 0,0,0,0,0,0,0,0.2,0,0.4, 0.6,1.0,3.2,0.6,1.4,0.8,2.8,1.0,0.4,2.2, 0.8,0.4,1.2,5.2,0.6,0.2,0,0.4,0.8,0, 0.6,0.2,0,0.4,0,0.6,0.2,0,0.8,0.4, 0,0.6,0,0,1.4,0.8,0,0.2,0.6,0, 0.4,0,0.2],
	[5.0,2.4,0.2,1.6,0.2,0,0,0,0,0, 0,0,0,0,0,0,0,0,0.4,0, 0.2,1.4,0.8,2.4,1.0,1.6,0.6,3.6,0.8,0.4, 1.2,0.4,0.8,0.2,2.2,4.7,0.6,0,0.4,0.2, 0,0.6,0.2,0,0.4,0,0.6,0.2,0,0.4, 0.2,0,0.6,0.2,0,0.4,0,0.6,0.2,0, 0.4,0.2,0]
];

var tempTicks = [-20,-15,-10,-5,0,5,10,15,20,25],
	precipTicks = [0,10,20,30,40],
	dateTicks = ["2026-08-21","2026-08-23","2026-08-25","2026-08-27","2026-08-29","2026-08-31","2026-09-02","2026-09-04","2026-09-06"];

var plot = { left: 163, right: 810, top: 30, bottom: 559 };

var stepTimes = d3.range(nSteps).map(function(i) { return new Date(firstStep + i * stepHours * 3600e3); });

var x = d3.scaleUtc()
	.domain([Date.UTC(2026, 7, 21, 0), Date.UTC(2026, 8, 6, 6)])
	.range([plot.left, 809.5]);
var yT = d3.scaleLinear().domain([-20, 25]).range([plot.bottom, plot.top]);
var yP = d3.scaleLinear().domain([0, 40]).range([plot.bottom, plot.top]);

var svg = d3.select("body").append("svg")
	.attr("width", 850)
	.attr("height", 620);

svg.append("rect").attr("width", 850).attr("height", 620).attr("fill", "#000");

svg.append("clipPath").attr("id", "plotclip")
	.append("rect")
	.attr("x", plot.left).attr("y", plot.top)
	.attr("width", plot.right - plot.left).attr("height", plot.bottom - plot.top + 2);

// grid
var grid = svg.append("g")
	.attr("stroke", "#3d3d3d")
	.attr("stroke-width", 1)
	.attr("stroke-dasharray", "4,3");

grid.selectAll(".hgrid")
	.data(tempTicks.filter(function(d) { return d > -20 && d < 25; }))
	.enter().append("line")
	.attr("x1", plot.left).attr("x2", plot.right)
	.attr("y1", function(d) { return Math.round(yT(d)) + 0.5; })
	.attr("y2", function(d) { return Math.round(yT(d)) + 0.5; });

grid.selectAll(".vgrid")
	.data(d3.utcDay.range(Date.UTC(2026, 7, 22), Date.UTC(2026, 8, 6, 1)))
	.enter().append("line")
	.attr("y1", plot.top).attr("y2", plot.bottom)
	.attr("x1", function(d) { return Math.round(x(d)) + 0.5; })
	.attr("x2", function(d) { return Math.round(x(d)) + 0.5; });

// frame
svg.append("rect")
	.attr("x", plot.left + 0.5).attr("y", plot.top + 0.5)
	.attr("width", plot.right - plot.left - 1).attr("height", plot.bottom - plot.top)
	.attr("fill", "none").attr("stroke", "#fff").attr("stroke-width", 1);

var lineT = d3.line()
	.x(function(d, i) { return x(stepTimes[i]); })
	.y(function(d) { return yT(d); });
var lineP = d3.line()
	.x(function(d, i) { return x(stepTimes[i]); })
	.y(function(d) { return yP(d); });

var lines = svg.append("g").attr("clip-path", "url(#plotclip)").attr("fill", "none");

pertTemp.forEach(function(row, k) {
	lines.append("path").attr("d", lineT(row))
		.attr("stroke", pertColors[k]).attr("stroke-width", 1);
	lines.append("path").attr("d", lineP(pertPrecip[k]))
		.attr("stroke", pertColors[k]).attr("stroke-width", 1);
});

lines.append("path").attr("d", lineT(climTemp))
	.attr("stroke", "#e84545").attr("stroke-width", 4);

var mains = [
	{ temp: meanTemp, precip: meanPrecip, color: "#ffffff", w: 3.2 },
	{ temp: controlTemp, precip: controlPrecip, color: "#1414ff", w: 3.5 },
	{ temp: operTemp, precip: operPrecip, color: "#1ee61e", w: 3.5 }
];
mains.forEach(function(m) {
	lines.append("path").attr("d", lineT(m.temp))
		.attr("stroke", m.color).attr("stroke-width", m.w).attr("stroke-linejoin", "round");
	lines.append("path").attr("d", lineP(m.precip))
		.attr("stroke", m.color).attr("stroke-width", m.w).attr("stroke-linejoin", "round");
});

// axes
var leftAxis = svg.append("g")
	.attr("transform", "translate(" + plot.left + ",0)")
	.call(d3.axisLeft(yT).tickValues(tempTicks).tickSize(0).tickPadding(10));
leftAxis.select(".domain").remove();

var rightAxis = svg.append("g")
	.attr("transform", "translate(" + plot.right + ",0)")
	.call(d3.axisRight(yP).tickValues(precipTicks).tickSize(0).tickPadding(7));
rightAxis.select(".domain").remove();

svg.append("g").selectAll("line")
	.data(d3.range(1, 40))
	.enter().append("line")
	.attr("x1", plot.right - 4).attr("x2", plot.right)
	.attr("y1", function(d) { return Math.round(yP(d)) + 0.5; })
	.attr("y2", function(d) { return Math.round(yP(d)) + 0.5; })
	.attr("stroke", "#fff");

var bottomAxis = svg.append("g")
	.attr("transform", "translate(0," + plot.bottom + ")")
	.call(d3.axisBottom(x)
		.tickValues(dateTicks.map(function(d) { return new Date(d + "T00:00Z"); }))
		.tickFormat(d3.utcFormat("%d%b %Hz"))
		.tickSize(0).tickPadding(10));
bottomAxis.select(".domain").remove();

svg.selectAll(".tick text")
	.attr("fill", "#fff")
	.style("font-family", "DejaVu Sans")
	.style("font-size", "10.3px");

svg.append("text")
	.attr("x", (plot.left + plot.right) / 2).attr("y", 593)
	.attr("text-anchor", "middle").style("font-size", "10.3px")
	.text("Date (UTC)");

svg.append("text")
	.attr("transform", "translate(135," + (plot.top + plot.bottom) / 2 + ") rotate(-90)")
	.attr("text-anchor", "middle").style("font-size", "10.3px")
	.text("850 hPa Temp. (°C)");

svg.append("text")
	.attr("transform", "translate(842," + (plot.top + plot.bottom) / 2 + ") rotate(-90)")
	.attr("text-anchor", "middle").style("font-size", "10.3px")
	.text("Neerslag (mm)");

svg.append("text")
	.attr("x", 435).attr("y", 18)
	.attr("text-anchor", "middle")
	.style("font-size", "16px").style("font-weight", "bold").style("white-space", "pre")
	.text("Brussels  (BE)  850 hPa Temp. & Neerslag | Fri, 21Aug2026 12Z");

svg.append("text")
	.attr("x", 120).attr("y", 605)
	.style("font-size", "16px")
	.text("GFS Ensemble, 51N, 4.5E");

svg.append("text")
	.attr("x", 650).attr("y", 605)
	.style("font-size", "16px")
	.text("Wetterzentrale.de");

// legend
var legendItems = pertNames.map(function(name, k) {
	return { label: [name], color: pertColors[k], col: k % 2, y: 39 + 15 * Math.floor(k / 2) };
});
legendItems.push({ label: ["Control"], color: "#1414ff", col: 0, y: 265 });
legendItems.push({ label: ["Ens. mean"], color: "#ffffff", col: 1, y: 265 });
legendItems.push({ label: ["1991-2020", "mean"], color: "#e84545", col: 1, y: 293 });
legendItems.push({ label: ["Oper"], color: "#1ee61e", col: 0, y: 305 });

var legend = svg.selectAll(".legend")
	.data(legendItems)
	.enter().append("g")
	.attr("class", "legend")
	.attr("transform", function(d) { return "translate(" + (d.col ? 53 : -2) + "," + d.y + ")"; });

legend.append("line")
	.attr("x1", 0).attr("x2", 10)
	.attr("stroke", function(d) { return d.color; })
	.attr("stroke-width", 2);

legend.append("text")
	.attr("x", 11).attr("y", 3.7)
	.style("font-size", "10.3px")
	.selectAll("tspan")
	.data(function(d) { return d.label; })
	.enter().append("tspan")
	.attr("x", 11)
	.attr("dy", function(d, i) { return i ? 11 : 0; })
	.text(function(d) { return d; });
</script>
</body>
</html>
